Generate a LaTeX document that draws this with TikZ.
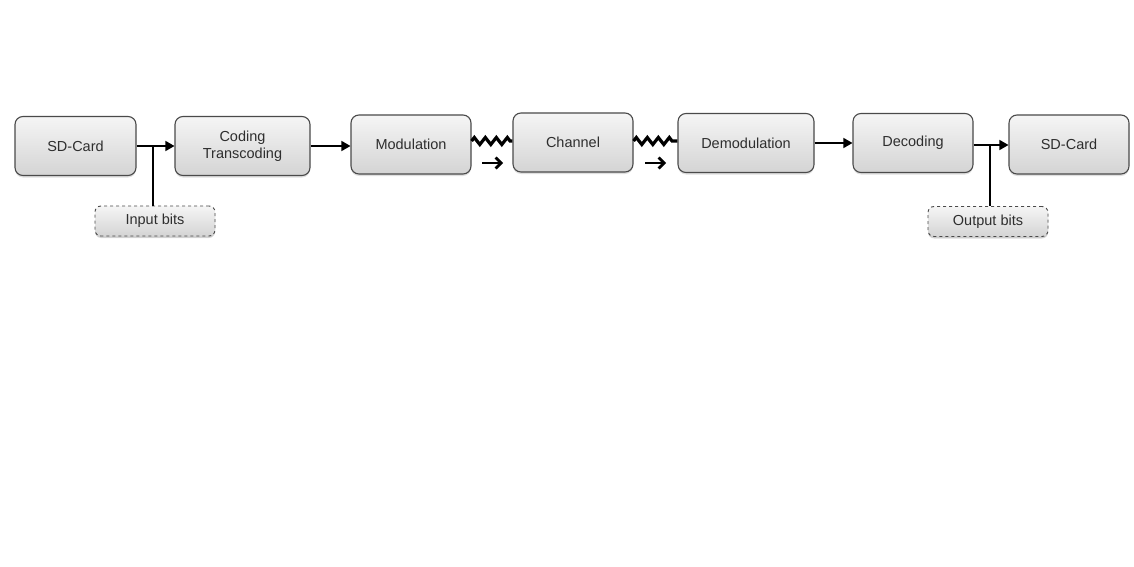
\documentclass[tikz,border=0pt]{standalone}
\usepackage{fontspec}
\setmainfont{Liberation Sans}
\usetikzlibrary{arrows.meta,shadows,decorations.pathmorphing,calc}
\definecolor{boxline}{HTML}{4A4A4A}
\definecolor{boxtop}{HTML}{F5F5F5}
\definecolor{boxbot}{HTML}{D4D4D4}
\definecolor{txt}{HTML}{2E2E2E}
\begin{document}
\begin{tikzpicture}[x=1pt,y=-1pt,
  block/.style={draw=boxline,line width=1.1pt,rounded corners=8pt,
    top color=boxtop,bottom color=boxbot,inner sep=0pt,
    minimum height=59pt,text=txt,align=center,
    font=\fontsize{14.5}{17}\selectfont,
    drop shadow={shadow xshift=0pt,shadow yshift=-2pt,opacity=0.25}},
  tag/.style={block,dashed,line width=0.9pt,minimum height=30pt,minimum width=120pt,
    rounded corners=6pt,drop shadow={shadow xshift=0pt,shadow yshift=-1.5pt,opacity=0.2}},
  flow/.style={line width=1.4pt,-{Triangle[length=9pt,width=10pt]}},
  tap/.style={line width=1.4pt},
  wave/.style={line width=3.2pt,decorate,
    decoration={zigzag,segment length=11pt,amplitude=3.5pt}},
  dirarrow/.style={line width=2.8pt,-{Straight Barb[length=5.5pt,width=11pt]}}]
\useasboundingbox (0,0) rectangle (1134,567);
\fill[white] (0,0) rectangle (1134,567);

% processing chain
\node[block,minimum width=121pt] (sd1)   at (75.5,146)  {SD-Card};
\node[block,minimum width=135pt] (cod)   at (242.5,146) {Coding\\Transcoding};
\node[block,minimum width=120pt] (mod)   at (411,144.5) {Modulation};
\node[block,minimum width=120pt] (chan)  at (573,142.5) {Channel};
\node[block,minimum width=136pt] (demod) at (746,143)   {Demodulation};
\node[block,minimum width=120pt] (dec)   at (913,143)   {Decoding};
\node[block,minimum width=120pt] (sd2)   at (1069,144.5){SD-Card};

% bit taps
\node[tag] (inb)  at (155,221)   {Input bits};
\node[tag] (outb) at (988,221.5) {Output bits};

% wired links
\draw[flow] (sd1.east) -- (cod.west);
\draw[flow] (cod.east) -- (cod.east -| mod.west);
\draw[flow] (demod.east) -- (dec.west);
\draw[flow] (dec.east |- 0,145) -- (sd2.west |- 0,145);

\coordinate (jin)  at (153,146);
\coordinate (jout) at (990,145);
\draw[tap] (jin) -- (inb.north -| jin);
\draw[tap] (jout) -- (outb.north -| jout);

% radio links
\draw[wave] (mod.east |- 0,141) -- (chan.west |- 0,141);
\draw[wave] (chan.east |- 0,141) -- (demod.west |- 0,141);
\coordinate (m1) at (482,163);
\coordinate (m2) at (645,163);
\draw[dirarrow] (m1) -- ++(21,0);
\draw[dirarrow] (m2) -- ++(21,0);
\end{tikzpicture}
\end{document}
